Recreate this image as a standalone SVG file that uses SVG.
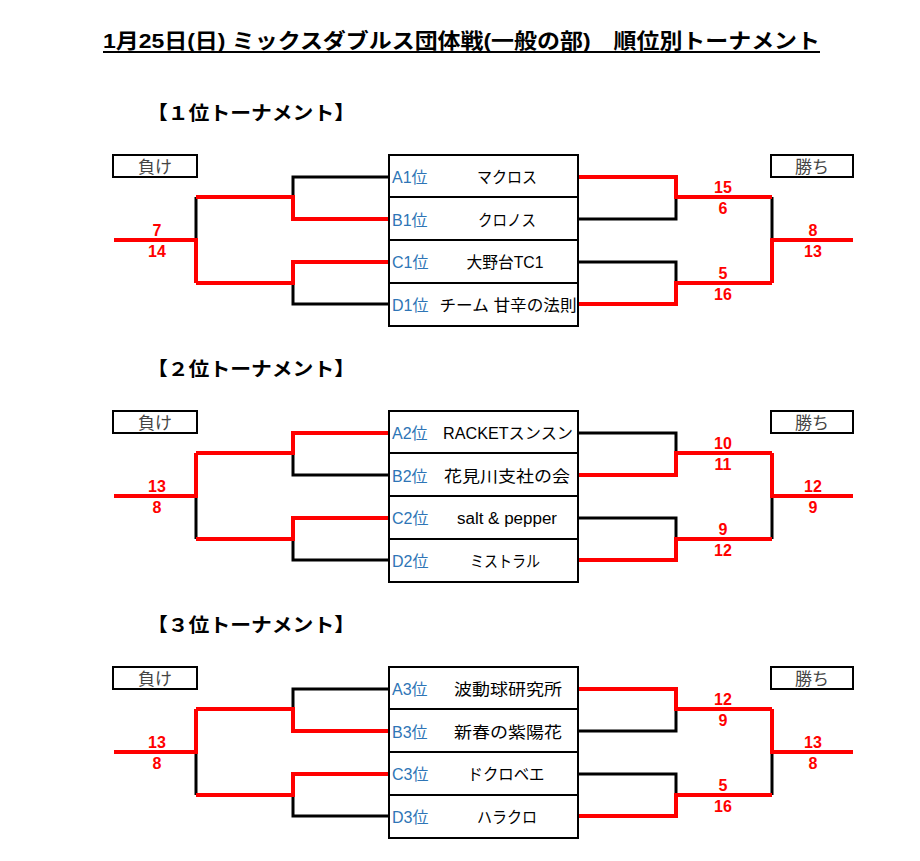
<svg xmlns="http://www.w3.org/2000/svg" width="920" height="861" viewBox="0 0 920 861">
<style>
.t{font-family:"Liberation Sans","Noto Sans CJK JP",sans-serif}
.title{font-size:21px;font-weight:bold;fill:#000}
.hdr{font-size:19px;font-weight:bold;fill:#000}
.tag{font-size:17px;fill:#444;text-anchor:middle}
.lbl{font-size:16px;fill:#2E75B6}
.nm{font-size:16px;fill:#000;text-anchor:middle}
.sc{font-size:16px;font-weight:bold;fill:#FF0000;text-anchor:middle}
.box{fill:#fff;stroke:#000;stroke-width:2}
.div{stroke:#000;stroke-width:2}
.blk{fill:none;stroke:#000;stroke-width:3}
.red{fill:none;stroke:#FF0000;stroke-width:4}
</style>
<rect width="920" height="861" fill="#fff"/>
<g id="title">
<text class="t title" x="103" y="48" textLength="717" lengthAdjust="spacingAndGlyphs">1月25日(日) ミックスダブルス団体戦(一般の部)　順位別トーナメント</text>
<line x1="103" y1="52" x2="820" y2="52" stroke="#000" stroke-width="2"/>
</g>
<g id="headers">
<text class="t hdr" x="147" y="120" textLength="208" lengthAdjust="spacingAndGlyphs">【１位トーナメント】</text>
<text class="t hdr" x="147" y="376" textLength="208" lengthAdjust="spacingAndGlyphs">【２位トーナメント】</text>
<text class="t hdr" x="147" y="632" textLength="208" lengthAdjust="spacingAndGlyphs">【３位トーナメント】</text>
</g>
<g id="tags">
<rect class="box" x="113" y="155" width="84" height="22"/><text class="t tag" x="155" y="173">負け</text>
<rect class="box" x="771" y="155" width="82" height="22"/><text class="t tag" x="812" y="173">勝ち</text>
<rect class="box" x="113" y="411" width="84" height="22"/><text class="t tag" x="155" y="429">負け</text>
<rect class="box" x="771" y="411" width="82" height="22"/><text class="t tag" x="812" y="429">勝ち</text>
<rect class="box" x="113" y="667" width="84" height="22"/><text class="t tag" x="155" y="685">負け</text>
<rect class="box" x="771" y="667" width="82" height="22"/><text class="t tag" x="812" y="685">勝ち</text>
</g>
<g id="connectors">
<path class="blk" d="M389,177 H293 V197 M389,304 H293 V283 M196,197 V240 M578,219 H676 V197 M578,262 H676 V283 M772,197 V240"/>
<path class="red" d="M389,219 H293 V197 H196 M389,262 H293 V283 H196 M196,283 V240 H114 M578,177 H676 V197 H772 M578,304 H676 V283 H772 M772,283 V240 H853"/>
<path class="blk" d="M389,475 H293 V453 M389,560 H293 V539 M196,539 V496 M578,433 H676 V453 M578,518 H676 V539 M772,539 V496"/>
<path class="red" d="M389,433 H293 V453 H196 M389,518 H293 V539 H196 M196,453 V496 H114 M578,475 H676 V453 H772 M578,560 H676 V539 H772 M772,453 V496 H853"/>
<path class="blk" d="M389,689 H293 V709 M389,816 H293 V795 M196,795 V752 M578,731 H676 V709 M578,774 H676 V795 M772,795 V752"/>
<path class="red" d="M389,731 H293 V709 H196 M389,774 H293 V795 H196 M196,709 V752 H114 M578,689 H676 V709 H772 M578,816 H676 V795 H772 M772,709 V752 H853"/>
</g>
<g id="scores">
<text class="t sc" x="157" y="236">7</text><text class="t sc" x="157" y="257">14</text>
<text class="t sc" x="723" y="193">15</text><text class="t sc" x="723" y="214">6</text>
<text class="t sc" x="723" y="279">5</text><text class="t sc" x="723" y="300">16</text>
<text class="t sc" x="813" y="236">8</text><text class="t sc" x="813" y="257">13</text>
<text class="t sc" x="157" y="492">13</text><text class="t sc" x="157" y="513">8</text>
<text class="t sc" x="723" y="449">10</text><text class="t sc" x="723" y="470">11</text>
<text class="t sc" x="723" y="535">9</text><text class="t sc" x="723" y="556">12</text>
<text class="t sc" x="813" y="492">12</text><text class="t sc" x="813" y="513">9</text>
<text class="t sc" x="157" y="748">13</text><text class="t sc" x="157" y="769">8</text>
<text class="t sc" x="723" y="705">12</text><text class="t sc" x="723" y="726">9</text>
<text class="t sc" x="723" y="791">5</text><text class="t sc" x="723" y="812">16</text>
<text class="t sc" x="813" y="748">13</text><text class="t sc" x="813" y="769">8</text>
</g>
<g id="team-box-1">
<rect class="box" x="389" y="155" width="189" height="171"/>
<line class="div" x1="389" y1="197" x2="578" y2="197"/><line class="div" x1="389" y1="240" x2="578" y2="240"/><line class="div" x1="389" y1="283" x2="578" y2="283"/>
<text class="t lbl" x="392" y="183">A1位</text><text class="t nm" x="507" y="183" textLength="60" lengthAdjust="spacingAndGlyphs">マクロス</text>
<text class="t lbl" x="392" y="226">B1位</text><text class="t nm" x="507" y="226" textLength="58" lengthAdjust="spacingAndGlyphs">クロノス</text>
<text class="t lbl" x="392" y="268">C1位</text><text class="t nm" x="505" y="268" textLength="77" lengthAdjust="spacingAndGlyphs">大野台TC1</text>
<text class="t lbl" x="392" y="311">D1位</text><text class="t nm" x="508" y="311" textLength="137" lengthAdjust="spacingAndGlyphs">チーム 甘辛の法則</text>
</g>
<g id="team-box-2">
<rect class="box" x="389" y="411" width="189" height="171"/>
<line class="div" x1="389" y1="453" x2="578" y2="453"/><line class="div" x1="389" y1="496" x2="578" y2="496"/><line class="div" x1="389" y1="539" x2="578" y2="539"/>
<text class="t lbl" x="392" y="439">A2位</text><text class="t nm" x="508" y="439" textLength="130" lengthAdjust="spacingAndGlyphs">RACKETスンスン</text>
<text class="t lbl" x="392" y="482">B2位</text><text class="t nm" x="507" y="482" textLength="126" lengthAdjust="spacingAndGlyphs">花見川支社の会</text>
<text class="t lbl" x="392" y="524">C2位</text><text class="t nm" x="507" y="524" font-size="15" textLength="100" lengthAdjust="spacingAndGlyphs">salt &amp; pepper</text>
<text class="t lbl" x="392" y="567">D2位</text><text class="t nm" x="505" y="567" textLength="70" lengthAdjust="spacingAndGlyphs">ミストラル</text>
</g>
<g id="team-box-3">
<rect class="box" x="389" y="667" width="189" height="171"/>
<line class="div" x1="389" y1="709" x2="578" y2="709"/><line class="div" x1="389" y1="752" x2="578" y2="752"/><line class="div" x1="389" y1="795" x2="578" y2="795"/>
<text class="t lbl" x="392" y="695">A3位</text><text class="t nm" x="508" y="695" textLength="108" lengthAdjust="spacingAndGlyphs">波動球研究所</text>
<text class="t lbl" x="392" y="738">B3位</text><text class="t nm" x="508" y="738" textLength="108" lengthAdjust="spacingAndGlyphs">新春の紫陽花</text>
<text class="t lbl" x="392" y="780">C3位</text><text class="t nm" x="506" y="780" textLength="77" lengthAdjust="spacingAndGlyphs">ドクロベエ</text>
<text class="t lbl" x="392" y="823">D3位</text><text class="t nm" x="507" y="823" textLength="60" lengthAdjust="spacingAndGlyphs">ハラクロ</text>
</g>
</svg>
